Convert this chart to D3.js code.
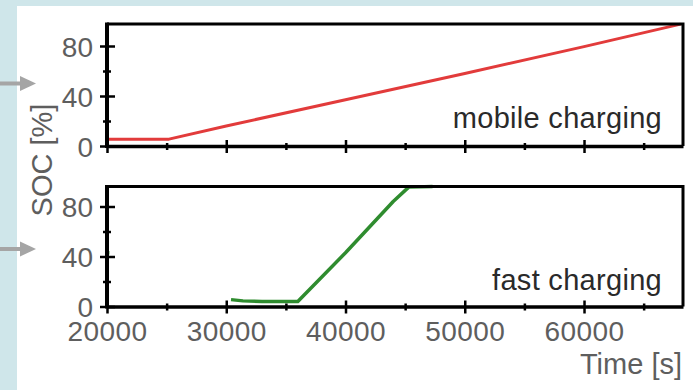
<!DOCTYPE html>
<html>
<head>
<meta charset="utf-8">
<script src="https://cdn.jsdelivr.net/npm/d3@7"></script>
<style>
  html, body { margin: 0; padding: 0; background: #cfe6ea; }
  svg { display: block; }
  text { font-family: "Liberation Sans", Arial, sans-serif; }
</style>
</head>
<body>
<svg id="chart" width="693" height="390"></svg>
<script>
// State of charge over time for two charging strategies
const xDomain = [20000, 68300];
const xTickValues = [20000, 25000, 30000, 35000, 40000, 45000, 50000, 55000, 60000, 65000];
const xTickLabels = ["20000", "30000", "40000", "50000", "60000"];
const yTickValues = [0, 20, 40, 60, 80];
const yTickLabels = ["0", "40", "80"];

// mobile charging: time [s] and SOC [%]
const mobileTime = [20000, 25200, 30000, 40000, 50000, 60000, 68100];
const mobileSoc  = [5.5,   5.5,   16,    37,    58,    79.5,  97.5];

// fast charging: time [s] and SOC [%]
const fastTime = [30400, 31400, 33000, 36000, 40000, 44000, 45300, 47300];
const fastSoc  = [5.5,   4.5,   4,     4,     43,    84,    95.5,  96];

// short segment of the fast-charging trace sitting on the SOC axis
const fastStubTime = [20000, 20200];
const fastStubSoc  = [43, 43];

const svg = d3.select("#chart");

// page background
svg.append("rect").attr("x", 0).attr("y", 0).attr("width", 693).attr("height", 390).attr("fill", "#cfe6ea");
svg.append("rect").attr("x", 17).attr("y", 6).attr("width", 676).attr("height", 384).attr("fill", "#ffffff");

const x = d3.scaleLinear().domain(xDomain).range([107, 683]);

const panels = [
  { top: 24, bottom: 146, label: "mobile charging", labelY: 127.5, showX: false,
    series: [{ t: mobileTime, v: mobileSoc, color: "#e23b3b", w: 3 }] },
  { top: 186.5, bottom: 306.5, label: "fast charging", labelY: 290, showX: true,
    series: [{ t: fastTime, v: fastSoc, color: "#2f8c2f", w: 3.5 },
             { t: fastStubTime, v: fastStubSoc, color: "#2f8c2f", w: 3.5 }] }
];

const tickFont = 28;
const captionFont = 29;
const tickColor = "#5e5e5e";

panels.forEach(p => {
  const yTop = (p.bottom - p.top) / 1.25;
  const y = d3.scaleLinear().domain([0, yTop]).range([p.bottom, p.top]);
  const g = svg.append("g");

  // data traces
  p.series.forEach(s => {
    const pts = s.t.map((t, i) => [t, s.v[i]]);
    g.append("path")
      .datum(pts)
      .attr("fill", "none")
      .attr("stroke", s.color)
      .attr("stroke-width", s.w)
      .attr("stroke-linejoin", "round")
      .attr("d", d3.line().x(d => x(d[0])).y(d => y(d[1])));
  });

  // frame: top and right borders
  g.append("path")
    .attr("d", `M${x.range()[0]},${p.top}H${x.range()[1]}V${p.bottom}`)
    .attr("fill", "none").attr("stroke", "#000").attr("stroke-width", 3);

  // bottom axis
  const xa = g.append("g").attr("transform", `translate(0,${p.bottom})`)
    .call(d3.axisBottom(x).tickValues(xTickValues).tickSizeOuter(0).tickSizeInner(6)
      .tickFormat(d => (p.showX && xTickLabels.includes(String(d))) ? String(d) : ""));
  xa.select(".domain").attr("stroke", "#000").attr("stroke-width", 3.5);
  xa.selectAll(".tick line")
    .attr("stroke", "#000").attr("stroke-width", 2.5)
    .attr("y1", d => d % 10000 === 0 ? -6 : -3)
    .attr("y2", d => d % 10000 === 0 ? 7 : 4);
  xa.selectAll(".tick text")
    .attr("y", 0).attr("dy", 0)
    .attr("transform", "translate(0,34)")
    .attr("font-size", tickFont).attr("letter-spacing", 0.4)
    .attr("fill", tickColor).attr("font-family", null);

  // left axis
  const ya = g.append("g").attr("transform", `translate(${x.range()[0]},0)`)
    .call(d3.axisLeft(y).tickValues(yTickValues).tickSizeOuter(0).tickSizeInner(6)
      .tickFormat(d => yTickLabels.includes(String(d)) ? String(d) : ""));
  ya.select(".domain").attr("stroke", "#000").attr("stroke-width", 4)
    .attr("d", `M0,${p.top - 1.5}V${p.bottom + 2}`);
  ya.selectAll(".tick line")
    .attr("stroke", "#000").attr("stroke-width", 2.5)
    .attr("x1", d => d % 40 === 0 ? 8 : 4)
    .attr("x2", d => d % 40 === 0 ? -7 : -4);
  ya.selectAll(".tick text")
    .attr("x", -14).attr("dy", "0.36em")
    .attr("font-size", tickFont)
    .attr("fill", tickColor).attr("font-family", null);

  // panel caption
  g.append("text")
    .attr("x", 662).attr("y", p.labelY)
    .attr("text-anchor", "end")
    .attr("font-size", captionFont)
    .attr("letter-spacing", 0.3)
    .attr("fill", "#2a2a2a")
    .text(p.label);
});

// axis titles
svg.append("text")
  .attr("transform", "translate(52,160) rotate(-90)")
  .attr("text-anchor", "middle")
  .attr("font-size", captionFont)
  .attr("fill", tickColor)
  .text("SOC [%]");

svg.append("text")
  .attr("x", 682).attr("y", 374)
  .attr("text-anchor", "end")
  .attr("font-size", captionFont)
  .attr("fill", tickColor)
  .text("Time [s]");

// pointer arrows at the left margin
[83.5, 249].forEach(cy => {
  svg.append("path")
    .attr("d", `M0,${cy}H22`)
    .attr("stroke", "#a5a5a5").attr("stroke-width", 4);
  svg.append("path")
    .attr("d", `M20,${cy - 7.5}L36,${cy}L20,${cy + 7.5}Z`)
    .attr("fill", "#a5a5a5");
});
</script>
</body>
</html>
